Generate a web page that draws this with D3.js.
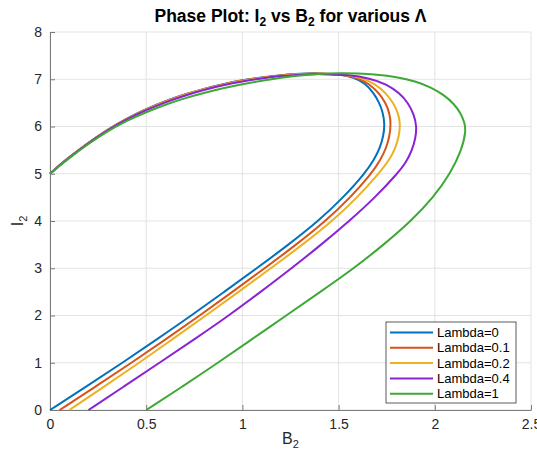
<!DOCTYPE html>
<html>
<head>
<meta charset="utf-8">
<script src="https://cdn.jsdelivr.net/npm/d3@7"></script>
<style>
  body { margin: 0; background: #fff; }
  text { font-family: "Liberation Sans", Arial, Helvetica, sans-serif; }
</style>
</head>
<body>
<div id="viz"></div>
<script>
// series labels and colours
const labels = ["Lambda=0", "Lambda=0.1", "Lambda=0.2", "Lambda=0.4", "Lambda=1"];
const colors = ["#0072BD", "#D95319", "#EDB120", "#8A22D6", "#3DA935"];

// [B2, I2] points, from (0,5) round the loop down to I2=0
const lambda0 = [[0,5],[0.05,5.18],[0.1,5.35],[0.2,5.66],[0.3,5.94],[0.4,6.17],[0.5,6.37],[0.6,6.54],[0.7,6.68],[0.8,6.80],
  [0.9,6.90],[1.0,6.98],[1.1,7.04],[1.2,7.09],[1.3,7.12],[1.4,7.13],[1.5,7.105],[1.58,7.04],[1.64,6.91],[1.68,6.72],
  [1.71,6.52],[1.73,6.3],[1.74,6.05],[1.733,5.8],[1.715,5.55],[1.685,5.3],[1.635,5.0],[1.525,4.5],[1.395,4.0],[1.24,3.5],
  [1.075,3.0],[0.905,2.5],[0.735,2.0],[0.557,1.5],[0.377,1.0],[0.19,0.5],[0,0]];
const lambda01 = [[0,5],[0.05,5.18],[0.1,5.35],[0.2,5.657],[0.3,5.936],[0.4,6.166],[0.5,6.365],[0.6,6.535],[0.7,6.675],[0.8,6.795],
  [0.9,6.895],[1.0,6.975],[1.1,7.035],[1.2,7.085],[1.3,7.115],[1.4,7.127],[1.52,7.10],[1.6,7.03],[1.66,6.9],[1.71,6.71],
  [1.745,6.5],[1.765,6.28],[1.772,6.05],[1.765,5.8],[1.748,5.55],[1.719,5.3],[1.67,5.0],[1.562,4.5],[1.433,4.0],[1.28,3.5],
  [1.116,3.0],[0.948,2.5],[0.779,2.0],[0.603,1.5],[0.424,1.0],[0.238,0.5],[0.05,0]];
const lambda02 = [[0,5],[0.05,5.18],[0.1,5.345],[0.2,5.652],[0.3,5.93],[0.4,6.16],[0.5,6.36],[0.6,6.53],[0.7,6.67],[0.8,6.79],
  [0.9,6.89],[1.0,6.97],[1.1,7.03],[1.2,7.08],[1.3,7.11],[1.4,7.122],[1.54,7.1],[1.62,7.03],[1.69,6.9],[1.745,6.71],
  [1.785,6.5],[1.81,6.28],[1.821,6.05],[1.814,5.8],[1.796,5.55],[1.765,5.3],[1.708,5.0],[1.598,4.5],[1.468,4.0],[1.313,3.5],
  [1.148,3.0],[0.98,2.5],[0.811,2.0],[0.637,1.5],[0.464,1.0],[0.283,0.5],[0.1,0]];
const lambda04 = [[0,5],[0.05,5.18],[0.1,5.345],[0.2,5.65],[0.3,5.925],[0.4,6.155],[0.5,6.35],[0.6,6.515],[0.7,6.655],[0.8,6.775],
  [0.9,6.875],[1.0,6.955],[1.1,7.02],[1.2,7.07],[1.3,7.10],[1.4,7.115],[1.56,7.09],[1.66,7.02],[1.75,6.9],[1.815,6.71],
  [1.862,6.5],[1.892,6.25],[1.906,6.0],[1.9,5.75],[1.882,5.5],[1.852,5.25],[1.805,5.0],[1.69,4.5],[1.556,4.0],[1.41,3.5],
  [1.256,3.0],[1.095,2.5],[0.93,2.0],[0.752,1.5],[0.569,1.0],[0.385,0.5],[0.2,0]];
const lambda1 = [[0,5],[0.05,5.17],[0.1,5.335],[0.2,5.635],[0.3,5.905],[0.4,6.125],[0.5,6.305],[0.6,6.465],[0.7,6.6],[0.8,6.71],
  [0.9,6.81],[1.0,6.895],[1.1,6.97],[1.2,7.035],[1.3,7.085],[1.4,7.115],[1.5,7.13],[1.6,7.125],[1.7,7.1],[1.8,7.05],
  [1.9,6.96],[1.98,6.83],[2.05,6.66],[2.1,6.48],[2.135,6.28],[2.155,6.08],[2.162,5.9],[2.14,5.5],[2.08,5.0],[1.993,4.5],
  [1.877,4.0],[1.735,3.5],[1.58,3.0],[1.405,2.5],[1.228,2.0],[1.05,1.5],[0.873,1.0],[0.69,0.5],[0.5,0]];
const series = [lambda0, lambda01, lambda02, lambda04, lambda1];

const xTicks = [0, 0.5, 1, 1.5, 2, 2.5];
const yTicks = [0, 1, 2, 3, 4, 5, 6, 7, 8];

const width = 537, height = 455;
const margin = {top: 32, right: 6, bottom: 45, left: 50};

const svg = d3.select("#viz").append("svg")
    .attr("width", width)
    .attr("height", height);

const x = d3.scaleLinear().domain([0, 2.5]).range([margin.left, width - margin.right]);
const y = d3.scaleLinear().domain([0, 8]).range([height - margin.bottom, margin.top]);

// grid
svg.append("g").selectAll("line").data(xTicks).join("line")
    .attr("x1", d => x(d)).attr("x2", d => x(d))
    .attr("y1", y(0)).attr("y2", y(8))
    .style("stroke", "#e3e3e3");
svg.append("g").selectAll("line").data(yTicks).join("line")
    .attr("x1", x(0)).attr("x2", x(2.5))
    .attr("y1", d => y(d)).attr("y2", d => y(d))
    .style("stroke", "#e3e3e3");

// axes
const xAxis = svg.append("g")
    .attr("transform", `translate(0,${y(0)})`)
    .call(d3.axisBottom(x).tickValues(xTicks).tickFormat(d3.format("")).tickSizeInner(-5).tickSizeOuter(0).tickPadding(9));
const yAxis = svg.append("g")
    .attr("transform", `translate(${x(0)},0)`)
    .call(d3.axisLeft(y).tickValues(yTicks).tickSizeInner(-5).tickSizeOuter(0).tickPadding(8));
[xAxis, yAxis].forEach(a => {
    a.select(".domain").style("stroke", "#7a7a7a");
    a.selectAll(".tick line").style("stroke", "#7a7a7a");
    a.selectAll(".tick text").style("font-size", "14px").style("fill", "#262626")
        .style("font-family", "\"Liberation Sans\", Arial, sans-serif");
});

// curves
const line = d3.line()
    .x(d => x(d[0]))
    .y(d => y(d[1]))
    .curve(d3.curveBasis);

svg.append("g").selectAll("path").data(series).join("path")
    .attr("d", line)
    .style("fill", "none")
    .style("stroke", (d, i) => colors[i])
    .style("stroke-width", 2);

// title and labels
const title = svg.append("text")
    .attr("x", (x(0) + x(2.5)) / 2).attr("y", 22)
    .attr("text-anchor", "middle")
    .style("font-size", "17.5px").style("font-weight", "bold").style("fill", "#000");
title.append("tspan").text("Phase Plot: I");
title.append("tspan").text("2").attr("dy", 4).style("font-size", "12px");
title.append("tspan").text(" vs B").attr("dy", -4);
title.append("tspan").text("2").attr("dy", 4).style("font-size", "12px");
title.append("tspan").text(" for various Λ").attr("dy", -4);

const xl = svg.append("text")
    .attr("x", (x(0) + x(2.5)) / 2).attr("y", 444)
    .attr("text-anchor", "middle")
    .style("font-size", "16px").style("fill", "#262626");
xl.append("tspan").text("B");
xl.append("tspan").text("2").attr("dy", 4).style("font-size", "11px");

const yl = svg.append("text")
    .attr("transform", `translate(23,${(y(0) + y(8)) / 2}) rotate(-90)`)
    .attr("text-anchor", "middle")
    .style("font-size", "16px").style("fill", "#262626");
yl.append("tspan").text("I");
yl.append("tspan").text("2").attr("dy", 4).style("font-size", "11px");

// legend
const legend = svg.append("g").attr("transform", "translate(386,322)");
legend.append("rect")
    .attr("width", 130).attr("height", 81)
    .style("fill", "#fff").style("stroke", "#262626").style("stroke-width", 0.75);
const rows = legend.selectAll("g").data(labels).join("g")
    .attr("transform", (d, i) => `translate(0,${10.5 + i * 15.3})`);
rows.append("line")
    .attr("x1", 4).attr("x2", 47)
    .style("stroke", (d, i) => colors[i]).style("stroke-width", 2);
rows.append("text")
    .attr("x", 51).attr("dy", "0.35em")
    .style("font-size", "13px").style("fill", "#000")
    .text(d => d);
</script>
</body>
</html>
